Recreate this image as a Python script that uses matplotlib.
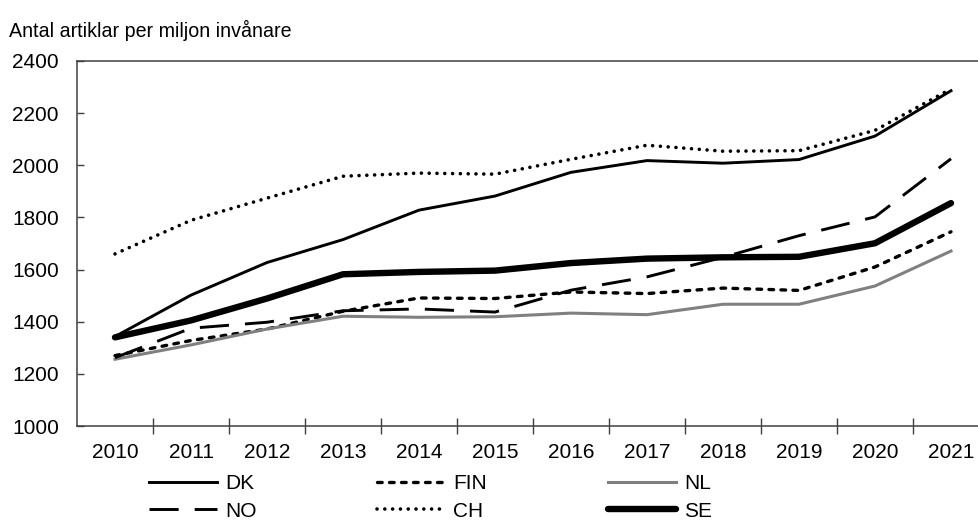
import matplotlib
matplotlib.use("Agg")
import matplotlib.pyplot as plt
from matplotlib.ticker import FixedLocator

matplotlib.rcParams.update({
    "font.family": ["Liberation Sans", "DejaVu Sans"],
    "font.size": 15,
})

years = ["2010", "2011", "2012", "2013", "2014", "2015",
         "2016", "2017", "2018", "2019", "2020", "2021"]

dk = [1343, 1502, 1627, 1715, 1828, 1882, 1973, 2018, 2008, 2022, 2112, 2286]
fin = [1270, 1328, 1372, 1440, 1491, 1489, 1514, 1508, 1529, 1520, 1610, 1745]
nl = [1256, 1311, 1372, 1421, 1417, 1419, 1433, 1427, 1467, 1467, 1537, 1671]
no = [1262, 1375, 1398, 1442, 1449, 1437, 1521, 1572, 1647, 1730, 1802, 2025]
ch = [1660, 1789, 1874, 1958, 1970, 1966, 2023, 2077, 2054, 2056, 2134, 2293]
se = [1340, 1405, 1489, 1582, 1591, 1596, 1625, 1642, 1647, 1649, 1701, 1855]

fig = plt.figure(figsize=(9.79, 5.22), dpi=100)
# right edge of the frame runs just past the figure border
ax = fig.add_axes([77 / 979, 96 / 522, (989 - 77) / 979, (426 - 61) / 522])

x = list(range(len(years)))
lines = {}
lines["DK"], = ax.plot(x, dk, color="black", lw=2.1, solid_joinstyle="round")
lines["FIN"], = ax.plot(x, fin, color="black", lw=2.4, dashes=(1.4, 2.2),
                        dash_capstyle="round")
lines["NL"], = ax.plot(x, nl, color="#808080", lw=2.2)
lines["NO"], = ax.plot(x, no, color="black", lw=2.1, dashes=(10, 5.5))
lines["CH"], = ax.plot(x, ch, color="black", lw=2.6, dashes=(0.01, 2.15),
                       dash_capstyle="round")
lines["SE"], = ax.plot(x, se, color="black", lw=4.6, solid_capstyle="round")

ax.set_xlim(-0.5, 11.5)
ax.set_ylim(1000, 2400)
ax.set_yticks(range(1000, 2401, 200))
ax.set_xticks(x)
ax.set_xticklabels(years)
ax.xaxis.set_minor_locator(FixedLocator([i - 0.5 for i in range(1, 12)]))

for side in ["left", "bottom", "top", "right"]:
    ax.spines[side].set_color("#404040")
    ax.spines[side].set_linewidth(1.1)

ax.tick_params(axis="x", which="major", length=0, pad=12, labelsize=15)
ax.tick_params(axis="x", which="minor", direction="inout", length=11,
               width=1.0, color="#404040")
ax.tick_params(axis="y", direction="in", length=5, width=1.0,
               color="#404040", pad=13, labelsize=15)

fig.text(9 / 979, 1 - 30 / 522, "Antal artiklar per miljon invånare",
         fontsize=14.1, va="center", ha="left")

order = ["DK", "NO", "FIN", "CH", "NL", "SE"]
fig.legend([lines[k] for k in order], order, ncol=3, frameon=False,
           loc="upper left", bbox_to_anchor=(149 / 979, 1 - 474 / 522),
           handlelength=3.27, handletextpad=0.38, columnspacing=5.8,
           labelspacing=0.42, fontsize=15, borderaxespad=0, borderpad=0)

fig.savefig("out.png", dpi=100)
